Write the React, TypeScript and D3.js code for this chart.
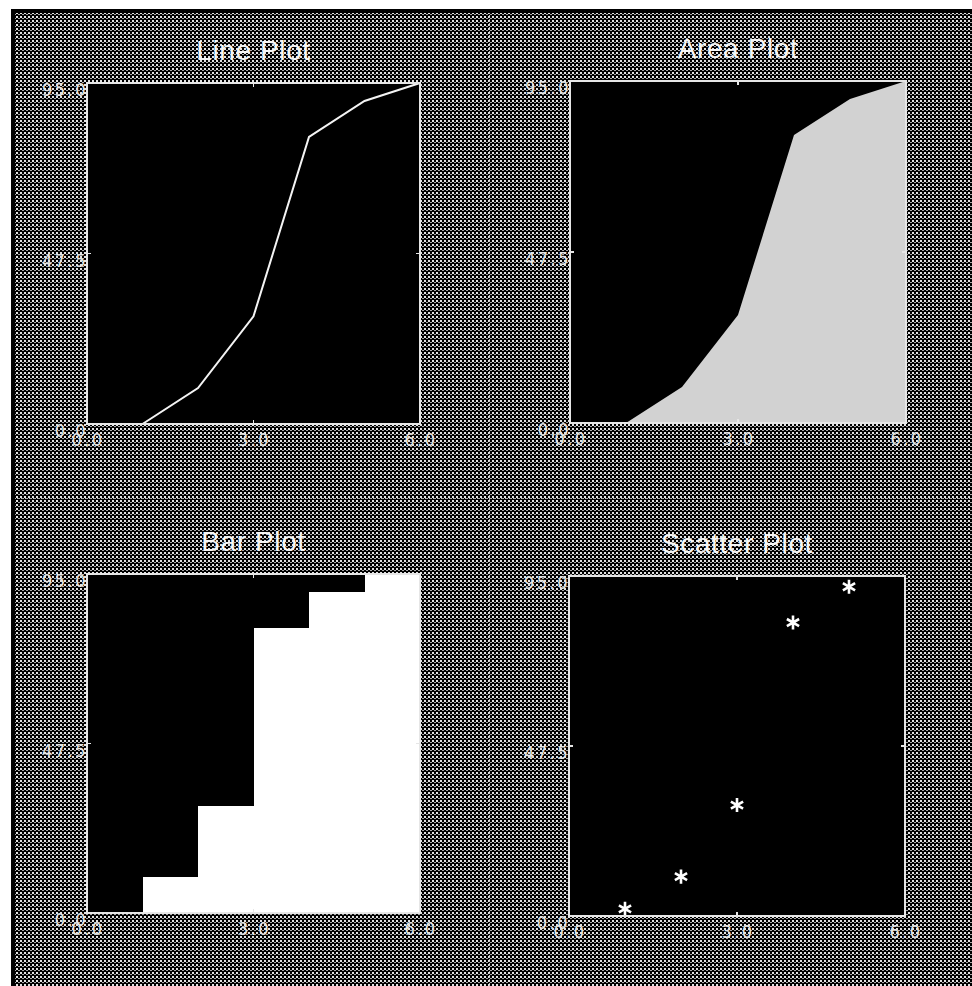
import React from "react";
import * as d3 from "d3";

// ---- data ----
const titles = ["Line Plot", "Area Plot", "Bar Plot", "Scatter Plot"];
const xValues = [1, 2, 3, 4, 5, 6];
const yValues = [0, 10, 30, 80, 90, 95];
const scatterX = [1, 2, 3, 4, 5];
const scatterY = [2, 11, 31, 82, 92];
const xTicks = [0, 3, 6];
const yTicks = [0, 47.5, 95];
const xDomain = [0, 6];
const yDomain = [0, 95];

// ---- layout (style only) ----
const W = 972;
const H = 986;
const panels = [
  { kind: "line", title: titles[0], x: 87, y: 83, w: 333, h: 341 },
  { kind: "area", title: titles[1], x: 570, y: 81, w: 336, h: 342 },
  { kind: "bar", title: titles[2], x: 87, y: 574, w: 333, h: 339 },
  { kind: "scatter", title: titles[3], x: 569, y: 576, w: 336, h: 340 },
];

const fmt = d3.format(".1f");
const tickFont = "'Liberation Sans Narrow', 'DejaVu Sans Condensed', 'Liberation Sans', sans-serif";
const titleFont = "'Liberation Sans', Arial, sans-serif";
const fg = "#e6e6e6";

function Panel({ p }: { p: (typeof panels)[number] }) {
  const x = d3.scaleLinear().domain(xDomain).range([p.x, p.x + p.w]);
  const y = d3.scaleLinear().domain(yDomain).range([p.y + p.h, p.y]);
  const pts: [number, number][] = xValues.map((v, i) => [v, yValues[i]]);

  let marks: React.ReactNode = null;
  if (p.kind === "line") {
    const line = d3
      .line<[number, number]>()
      .x((d) => x(d[0]))
      .y((d) => y(d[1]));
    marks = <path d={line(pts) || ""} fill="none" stroke="#f4f4f4" strokeWidth={2} shapeRendering="geometricPrecision" />;
  } else if (p.kind === "area") {
    const area = d3
      .area<[number, number]>()
      .x((d) => x(d[0]))
      .y0(y(0))
      .y1((d) => y(d[1]));
    marks = <path d={area(pts) || ""} fill="#d2d2d2" stroke="none" shapeRendering="geometricPrecision" />;
  } else if (p.kind === "bar") {
    marks = pts.map(([xv, yv], i) => (
      <rect
        key={i}
        x={x(xv - 1)}
        y={y(yv)}
        width={x(xv) - x(xv - 1) + 0.5}
        height={y(0) - y(yv)}
        fill="#ffffff"
      />
    ));
  } else {
    const sym = d3.symbol().type(d3.symbolAsterisk).size(140);
    marks = scatterX.map((xv, i) => (
      <path
        key={i}
        d={sym() || ""}
        transform={`translate(${x(xv)},${y(scatterY[i])})`}
        fill="none"
        stroke="#ffffff"
        strokeWidth={2.6}
        shapeRendering="geometricPrecision"
      />
    ));
  }

  const x0 = p.x;
  const x1 = p.x + p.w;
  const y0 = p.y + p.h;
  const y1 = p.y;

  return (
    <g>
      <rect x={p.x} y={p.y} width={p.w} height={p.h} fill="#000" />
      {marks}
      <rect x={p.x} y={p.y} width={p.w} height={p.h} fill="none" stroke={fg} strokeWidth={1.5} />
      {/* inner tick marks */}
      {xTicks.map((t, i) => (
        <g key={"xt" + i}>
          <line x1={x(t)} x2={x(t)} y1={y0} y2={y0 - 4} stroke={fg} strokeWidth={1.2} />
          <line x1={x(t)} x2={x(t)} y1={y1} y2={y1 + 4} stroke={fg} strokeWidth={1.2} />
        </g>
      ))}
      {yTicks.map((t, i) => (
        <g key={"yt" + i}>
          <line x1={x0 - 1} x2={x0 + 4} y1={y(t)} y2={y(t)} stroke={fg} strokeWidth={1.2} />
          <line x1={x1} x2={x1 - 4} y1={y(t)} y2={y(t)} stroke={fg} strokeWidth={1.2} />
        </g>
      ))}
      {/* tick labels */}
      {xTicks.map((t, i) => (
        <text
          key={"xl" + i}
          x={x(t) + 1}
          y={y0 + 22}
          textAnchor="middle"
          fontFamily={tickFont}
          fontSize={18}
          letterSpacing={2.5}
          fill="#e4e4e4"
        >
          {fmt(t)}
        </text>
      ))}
      {yTicks.map((t, i) => (
        <text
          key={"yl" + i}
          x={x0 + 1}
          y={y(t) + 13}
          textAnchor="end"
          fontFamily={tickFont}
          fontSize={18}
          letterSpacing={2.5}
          fill="#e4e4e4"
        >
          {fmt(t)}
        </text>
      ))}
      <text
        x={p.x + p.w / 2}
        y={p.y - 23}
        textAnchor="middle"
        fontFamily={titleFont}
        fontSize={28}
        letterSpacing={0.6}
        fill="#f6f6f6"
      >
        {p.title}
      </text>
    </g>
  );
}

export default function App() {
  return (
    <svg
      width={W}
      height={H}
      style={{ position: "absolute", left: 0, top: 0, display: "block" }}
      shapeRendering="crispEdges"
    >
      <defs>
        <pattern id="bgDither" width={4} height={4} patternUnits="userSpaceOnUse">
          <rect width={4} height={4} fill="#000" />
          <rect x={0} y={0} width={2} height={2} fill="#e2e2e2" />
          <rect x={2} y={2} width={2} height={1} fill="#a8a8a8" />
        </pattern>
      </defs>
      <rect width={W} height={H} fill="#fff" />
      <rect x={11} y={9} width={W - 11} height={H - 9} fill="#000" />
      <rect x={15} y={13} width={W - 15} height={H - 13} fill="url(#bgDither)" />
      {/* quadrant separators */}
      <line x1={489.5} x2={489.5} y1={13} y2={H} stroke="#b8b8b8" strokeWidth={1} strokeDasharray="1,1" />
      <line x1={15} x2={W} y1={498.5} y2={498.5} stroke="#b8b8b8" strokeWidth={1} strokeDasharray="1,1" />
      {panels.map((p, i) => (
        <Panel key={i} p={p} />
      ))}
    </svg>
  );
}
